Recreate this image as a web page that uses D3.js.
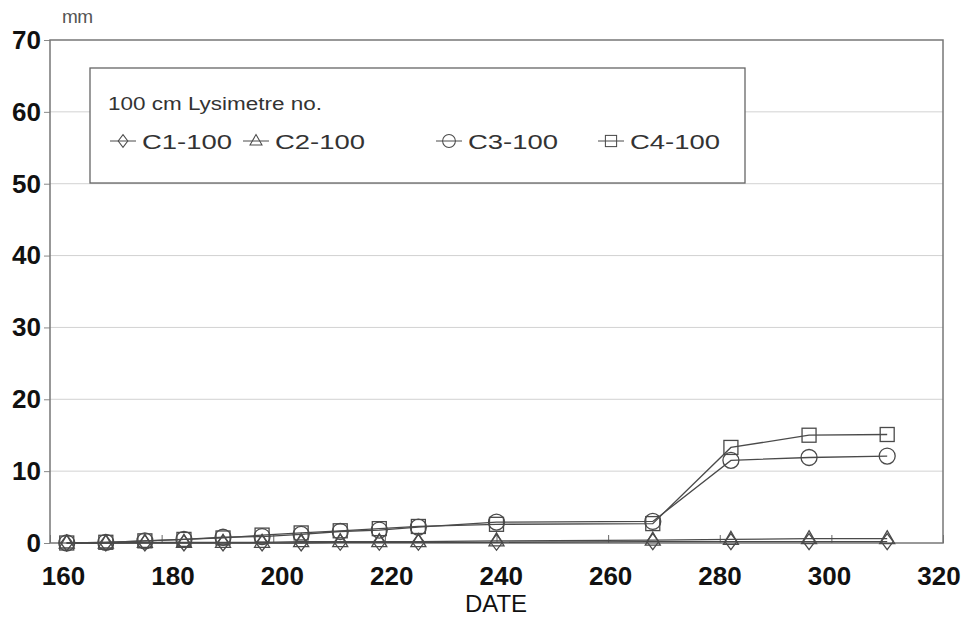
<!DOCTYPE html>
<html>
<head>
<meta charset="utf-8">
<script src="https://cdn.jsdelivr.net/npm/d3@7"></script>
<style>
  html, body { margin: 0; padding: 0; background: #fff; }
  svg { display: block; font-family: "Liberation Sans", Arial, sans-serif; }
</style>
</head>
<body>
<svg id="chart" width="975" height="618"></svg>
<script>
// Sampling days (day of year)
const dates = [163, 170, 177, 184, 191, 198, 205, 212, 219, 226, 240, 268, 282, 296, 310];

// Cumulative drainage, mm, per lysimeter
const c1 = [0, 0, 0, 0, 0, 0, 0, 0.1, 0.1, 0.1, 0.1, 0.2, 0.2, 0.2, 0.2];
const c2 = [0, 0, 0.1, 0.1, 0.1, 0.1, 0.2, 0.2, 0.2, 0.2, 0.3, 0.4, 0.5, 0.6, 0.6];
const c3 = [0, 0.1, 0.3, 0.5, 0.8, 0.9, 1.2, 1.6, 1.8, 2.2, 2.9, 3.0, 11.5, 11.9, 12.1];
const c4 = [0, 0.1, 0.3, 0.5, 0.7, 1.1, 1.4, 1.7, 2.0, 2.3, 2.6, 2.7, 13.3, 15.0, 15.1];

const seriesNames = ["C1-100", "C2-100", "C3-100", "C4-100"];
const seriesShapes = ["diamond", "triangle", "circle", "square"];
const seriesValues = [c1, c2, c3, c4];

const xTicks = [160, 180, 200, 220, 240, 260, 280, 300, 320];
const yTicks = [0, 10, 20, 30, 40, 50, 60, 70];
const legendTitle = "100 cm Lysimetre no.";
const xTitle = "DATE";
const yUnit = "mm";

const svg = d3.select("#chart");
const ink = "#4a4a4a";

const x = d3.scaleLinear().domain([160, 320]).range([50, 943]);
const y = d3.scaleLinear().domain([0, 70]).range([543, 40]);

// Horizontal grid
svg.append("g")
  .selectAll("line")
  .data(yTicks.filter(t => t > 0 && t < 70))
  .join("line")
  .attr("x1", x(160)).attr("x2", x(320))
  .attr("y1", d => y(d)).attr("y2", d => y(d))
  .attr("stroke", "#d2d2d2").attr("stroke-width", 1);

// Y axis: short outer ticks and bold labels
const yAxis = d3.axisLeft(y).tickValues(yTicks).tickSize(6).tickPadding(3).tickFormat(d3.format("d"));
const gy = svg.append("g").attr("transform", `translate(${x(160)},0)`).call(yAxis);
gy.select(".domain").remove();
gy.selectAll(".tick line").attr("stroke", "#888");
gy.selectAll(".tick text")
  .attr("font-size", 26).attr("font-weight", "bold").attr("fill", "#111")
  .attr("font-family", "'Liberation Sans', Arial, sans-serif");

// X axis: inner ticks plus labels below the frame (labels drift slightly left of their ticks)
const xAxis = d3.axisBottom(x).tickValues(xTicks).tickSize(-8).tickPadding(24).tickFormat(d3.format("d"));
const gx = svg.append("g").attr("transform", `translate(0,${y(0)})`).call(xAxis);
gx.select(".domain").remove();
gx.selectAll(".tick line").attr("stroke", "#666");
gx.selectAll(".tick text")
  .attr("font-size", 26).attr("font-weight", "bold").attr("fill", "#111")
  .attr("dx", d => 13 - (d - 160) * 0.11)
  .attr("font-family", "'Liberation Sans', Arial, sans-serif");

// Plot frame
svg.append("rect")
  .attr("x", x(160)).attr("y", y(70))
  .attr("width", x(320) - x(160)).attr("height", y(0) - y(70))
  .attr("fill", "none").attr("stroke", "#777").attr("stroke-width", 1.5);

// Axis titles
svg.append("text").attr("x", 62).attr("y", 23).text(yUnit)
  .attr("font-size", 19).attr("textLength", 31).attr("fill", "#555");
svg.append("text").attr("x", 496).attr("y", 612).text(xTitle)
  .attr("text-anchor", "middle").attr("font-size", 24).attr("fill", "#111");

// Marker shapes
function marker(g, shape) {
  if (shape === "diamond") {
    g.append("path").attr("d", "M0,-8L6,0L0,8L-6,0Z");
  } else if (shape === "triangle") {
    g.append("path").attr("d", "M0,-8L7.5,5L-7.5,5Z");
  } else if (shape === "circle") {
    g.append("circle").attr("r", 8);
  } else {
    g.append("rect").attr("x", -7).attr("y", -7).attr("width", 14).attr("height", 14);
  }
  g.selectAll("*").attr("fill", "none").attr("stroke", ink).attr("stroke-width", 1.3);
}

const line = d3.line().x(d => x(d[0])).y(d => y(d[1]));

seriesValues.forEach((vals, i) => {
  const pts = dates.map((d, j) => [d, vals[j]]);
  const g = svg.append("g");
  g.append("path").attr("d", line(pts))
    .attr("fill", "none").attr("stroke", ink).attr("stroke-width", 1.3);
  pts.forEach(p => {
    const m = g.append("g").attr("transform", `translate(${x(p[0])},${y(p[1])})`);
    marker(m, seriesShapes[i]);
  });
});

// Legend (wide lettering: glyphs stretched to the box's text widths)
const lg = svg.append("g");
lg.append("rect").attr("x", 90).attr("y", 68).attr("width", 655).attr("height", 115)
  .attr("fill", "#fff").attr("stroke", "#666").attr("stroke-width", 1.3);
lg.append("text").attr("x", 108).attr("y", 110).text(legendTitle)
  .attr("font-size", 18).attr("textLength", 214).attr("lengthAdjust", "spacingAndGlyphs")
  .attr("fill", "#333");
const itemX = [110, 243, 436, 598];
seriesNames.forEach((name, i) => {
  const x0 = itemX[i];
  const it = lg.append("g").attr("transform", `translate(${x0},141)`);
  it.append("line").attr("x1", 0).attr("x2", 26).attr("y1", 0).attr("y2", 0)
    .attr("stroke", ink).attr("stroke-width", 1);
  const m = it.append("g").attr("transform", "translate(13,0) scale(0.8)");
  marker(m, seriesShapes[i]);
  it.append("text").attr("x", 32).attr("y", 8).text(name)
    .attr("font-size", 21).attr("textLength", 90).attr("lengthAdjust", "spacingAndGlyphs")
    .attr("fill", "#333");
});
</script>
</body>
</html>
